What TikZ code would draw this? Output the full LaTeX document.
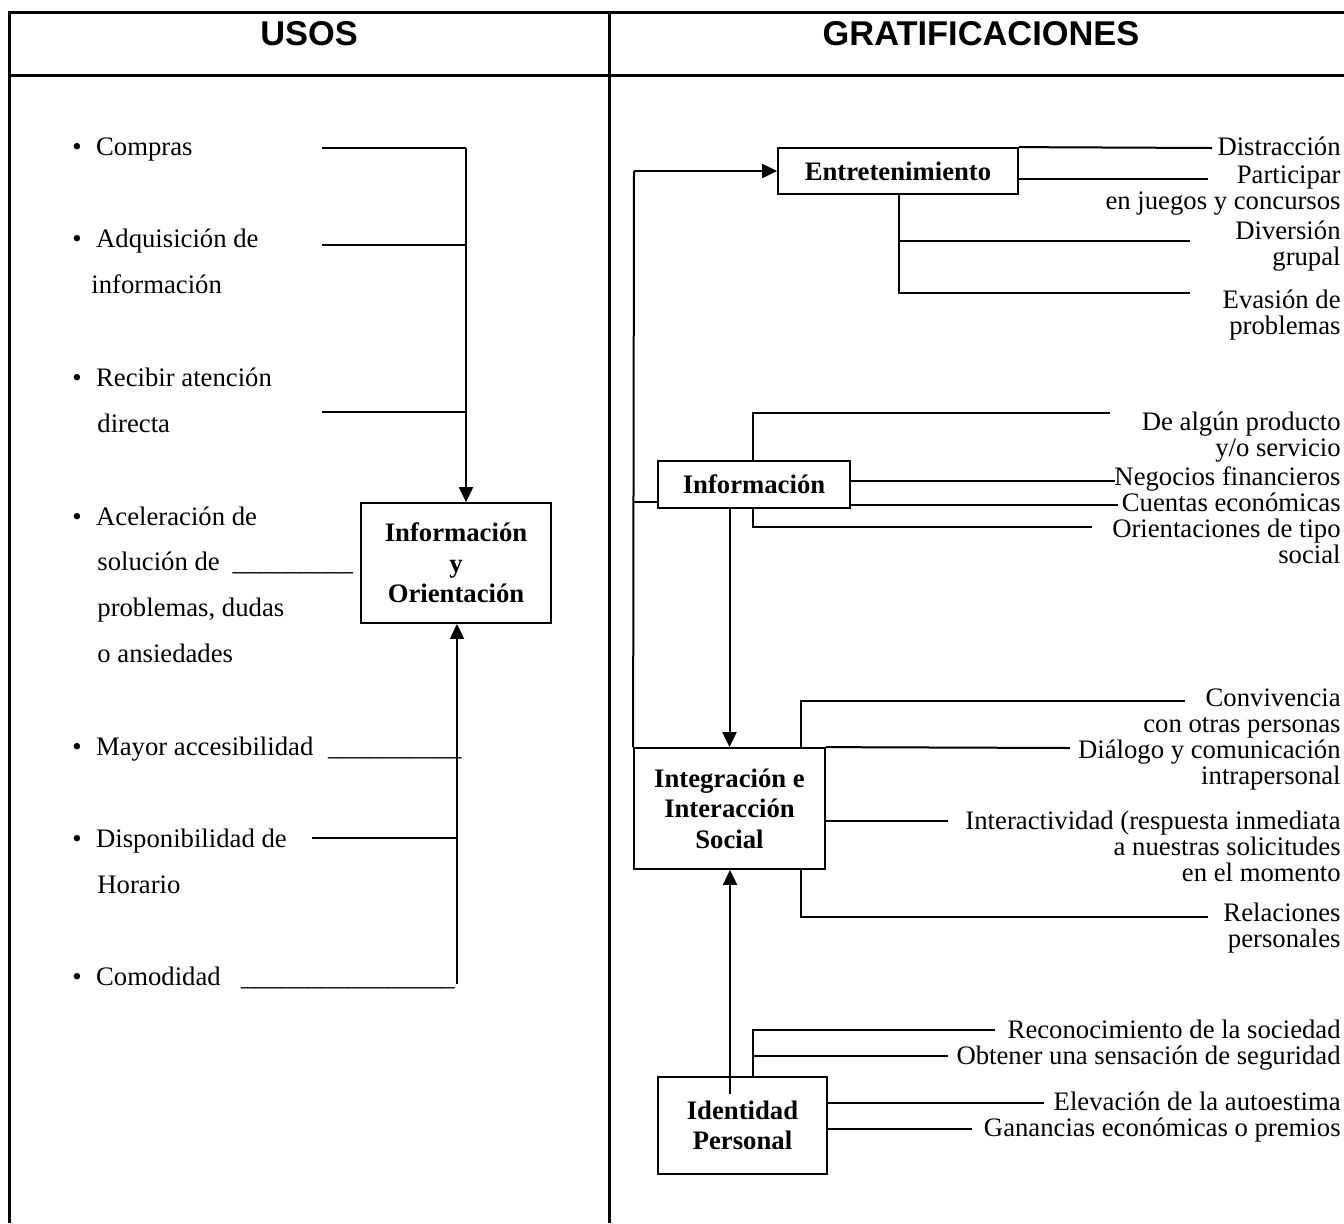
\documentclass[tikz,border=0pt]{standalone}
\usepackage{fontspec}
\setmainfont{Liberation Serif}
\newfontfamily\hdrfont{Liberation Sans}
\usetikzlibrary{arrows.meta}
\begin{document}
\begin{tikzpicture}[x=0.5pt,y=-0.5pt,
  tbl/.style={line width=1.5pt},
  conn/.style={line width=1pt},
  arr/.style={conn,-{Triangle[length=7.5pt,width=7pt]}},
  box/.style={draw,line width=0.9pt,inner sep=0pt,align=center,font=\fontsize{13.35}{15.2}\selectfont\bfseries},
  txt/.style={inner sep=0pt,font=\fontsize{13.35}{16}\selectfont},
  lt/.style={txt,anchor=base west},
  rt/.style={txt,anchor=base east},
  hdr/.style={inner sep=0pt,font=\hdrfont\bfseries\fontsize{17.2}{20}\selectfont}]
\useasboundingbox (0,0) rectangle (1344,1223);
\fill[white] (0,0) rectangle (1344,1223);
% table frame
\draw[tbl] (1344,12) -- (9,12) -- (9,1223);
\draw[tbl] (9,75) -- (1344,75);
\draw[tbl] (609,12) -- (609,1223);
\node[hdr] (husos) at (309,34) {USOS};
\node[hdr] (hgrat) at (981,34) {GRATIFICACIONES};
% ---------------- left column
\node[lt] (u1) at (72,155) {\textbullet\hspace{7.2pt}Compras};
\node[lt] (u2) at (72,247) {\textbullet\hspace{7.2pt}Adquisición de};
\node[lt] (u2b) at (91,293) {información};
\node[lt] (u3) at (72,386) {\textbullet\hspace{7.2pt}Recibir atención};
\node[lt] (u3b) at (97,432) {directa};
\node[lt] (u4) at (72,525) {\textbullet\hspace{7.2pt}Aceleración de};
\node[lt] (u4b) at (97,570) {solución de\hspace{6.5pt}\_\_\_\_\_\_\_\_\_};
\node[lt] (u4c) at (97,616) {problemas, dudas};
\node[lt] (u4d) at (97,662) {o ansiedades};
\node[lt] (u5) at (72,755) {\textbullet\hspace{7.2pt}Mayor accesibilidad\hspace{7.35pt}\_\_\_\_\_\_\_\_\_\_};
\node[lt] (u6) at (72,847) {\textbullet\hspace{7.2pt}Disponibilidad de};
\node[lt] (u6b) at (97,893) {Horario};
\node[lt] (u7) at (72,985) {\textbullet\hspace{7.2pt}Comodidad\hspace{10.2pt}\_\_\_\_\_\_\_\_\_\_\_\_\_\_\_\_};
\node[box,minimum width=95pt,minimum height=60pt] (io) at (456,563) {Información\\y\\Orientación};
\coordinate (c1) at (322,148);
\coordinate (j1) at (466,148);
\coordinate (c2) at (322,245);
\coordinate (c3) at (322,412);
\draw[conn] (c1) -- (j1);
\draw[conn] (c2) -- (c2 -| j1);
\draw[conn] (c3) -- (c3 -| j1);
\draw[arr] (j1) -- (j1 |- io.north);
\coordinate (j2) at (457,984);
\coordinate (c6) at (312,838);
\draw[conn] (c6) -- (c6 -| j2);
\draw[arr] (j2) -- (j2 |- io.south);
% ---------------- right column boxes
\node[box,minimum width=120pt,minimum height=23pt] (ent) at (898,171) {Entretenimiento};
\node[box,minimum width=96pt,minimum height=23.5pt] (info) at (754,484.5) {Información};
\node[box,minimum width=95.5pt,minimum height=60.5pt] (integ) at (729.5,808.5) {Integración e\\Interacción\\Social};
\node[box,minimum width=84.5pt,minimum height=48.5pt] (ident) at (742.5,1125.5) {Identidad\\Personal};
% main connectors
\coordinate (r0) at (634,171);
\draw[arr] (r0) -- (ent.west);
\draw[conn] (r0) -- (integ.north west);
\coordinate (tk) at (634,502);
\draw[conn] (tk) -- (tk -| info.west);
\draw[arr] (info.south -| integ.north) -- (integ.north);
\coordinate (dv) at (730,1094);
\draw[arr] (dv) -- (dv |- integ.south);
% Entretenimiento branches
\coordinate (e1) at (1212,148);
\coordinate (e2) at (1208,179);
\coordinate (ev) at (899,293);
\coordinate (e3) at (1190,241);
\coordinate (e4) at (1190,293);
\draw[conn] (ent.north east) -- (e1);
\draw[conn] (e2 -| ent.east) -- (e2);
\draw[conn] (ev |- ent.south) -- (ev) -- (e4);
\draw[conn] (e3 -| ev) -- (e3);
% Informacion branches
\coordinate (ib) at (753,413);
\coordinate (i1) at (1110,413);
\coordinate (i2) at (1115,481);
\coordinate (i3) at (1118,505);
\coordinate (ic) at (753,527);
\coordinate (i4) at (1092,527);
\draw[conn] (ib |- info.north) -- (ib) -- (i1);
\draw[conn] (i2 -| info.east) -- (i2);
\draw[conn] (i3 -| info.east) -- (i3);
\draw[conn] (ic |- info.south) -- (ic) -- (i4);
% Integracion branches
\coordinate (gb) at (801,701);
\coordinate (g1) at (1185,701);
\coordinate (g2) at (1070,748);
\coordinate (g3) at (948,821);
\coordinate (gc) at (801,917);
\coordinate (g4) at (1208,917);
\draw[conn] (gb |- integ.north) -- (gb) -- (g1);
\draw[conn] (integ.north east) -- (g2);
\draw[conn] (g3 -| integ.east) -- (g3);
\draw[conn] (gc |- integ.south) -- (gc) -- (g4);
% Identidad branches
\coordinate (db) at (753,1030);
\coordinate (d1) at (995,1030);
\coordinate (d2) at (948,1056);
\coordinate (d3) at (1044,1103);
\coordinate (d4) at (972,1129);
\draw[conn] (db |- ident.north) -- (db) -- (d1);
\draw[conn] (d2 -| db) -- (d2);
\draw[conn] (d3 -| ident.east) -- (d3);
\draw[conn] (d4 -| ident.east) -- (d4);
% ---------------- right texts
\node[rt] (t1) at (1341,155) {Distracción};
\node[rt] (t2) at (1341,183) {Participar};
\node[rt] (t3) at (1341,209) {en juegos y concursos};
\node[rt] (t4) at (1341,239) {Diversión};
\node[rt] (t5) at (1341,265) {grupal};
\node[rt] (t6) at (1341,308) {Evasión de};
\node[rt] (t7) at (1341,334) {problemas};
\node[rt] (t8) at (1341,430) {De algún producto};
\node[rt] (t9) at (1341,456) {y/o servicio};
\node[rt] (t10) at (1341,485) {Negocios financieros};
\node[rt] (t11) at (1341,511) {Cuentas económicas};
\node[rt] (t12) at (1341,537) {Orientaciones de tipo};
\node[rt] (t13) at (1341,563) {social};
\node[rt] (t14) at (1341,706) {Convivencia};
\node[rt] (t15) at (1341,732) {con otras personas};
\node[rt] (t16) at (1341,758) {Diálogo y comunicación};
\node[rt] (t17) at (1341,784) {intrapersonal};
\node[rt] (t18) at (1341,829) {Interactividad (respuesta inmediata};
\node[rt] (t19) at (1341,855) {a nuestras solicitudes};
\node[rt] (t20) at (1341,881) {en el momento};
\node[rt] (t21) at (1341,921) {Relaciones};
\node[rt] (t22) at (1341,947) {personales};
\node[rt] (t23) at (1341,1038) {Reconocimiento de la sociedad};
\node[rt] (t24) at (1341,1064) {Obtener una sensación de seguridad};
\node[rt] (t25) at (1341,1110) {Elevación de la autoestima};
\node[rt] (t26) at (1341,1136) {Ganancias económicas o premios};
\end{tikzpicture}
\end{document}
